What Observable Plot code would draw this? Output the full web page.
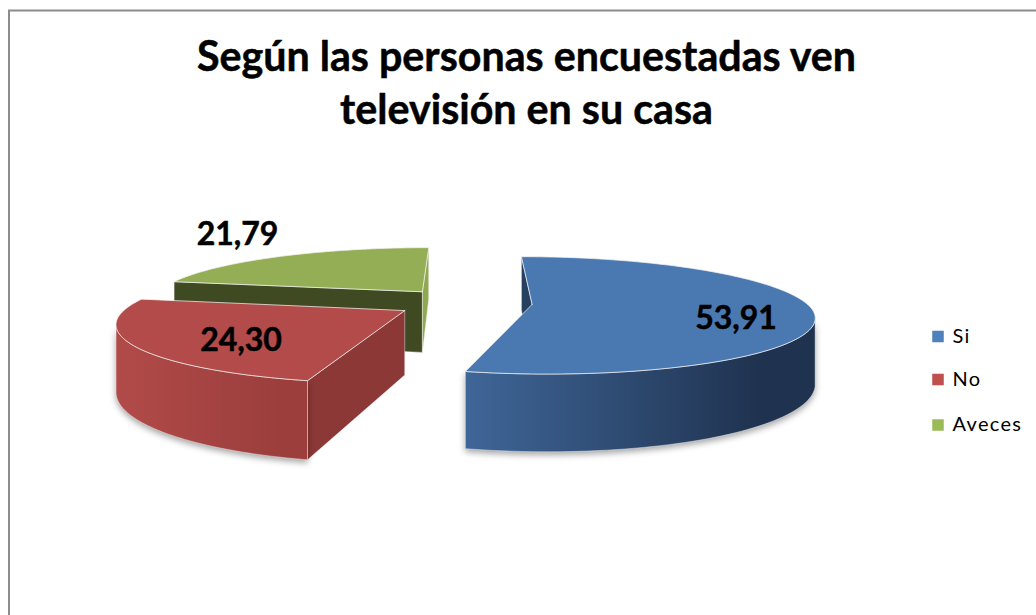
<!DOCTYPE html>
<html lang="es">
<head>
<meta charset="utf-8">
<script src="https://cdn.jsdelivr.net/npm/d3@7"></script>
<script src="https://cdn.jsdelivr.net/npm/@observablehq/plot@0.6"></script>
<style>html,body{margin:0;padding:0;background:#fff}svg{display:block}.leg text{letter-spacing:1.3px}</style>
</head>
<body>
<div id="chart"></div>
<script>
// Data
const categories = ["Si", "No", "Aveces"];
const values = [53.91, 24.30, 21.79];
const titleLines = ["Según las personas encuestadas ven", "televisión en su casa"];
const legendY = [336, 379, 424.5];
const labelPos = [[735.5, 318], [240.5, 340], [237, 234]];

// Styles per slice
const topColor = ["#4a79b1", "#b24b49", "#93ae54"];
const legendColor = ["#4f81bd", "#c0504d", "#9bbb59"];
const startFace = ["#26405f", "#8c3837", "#404a22"];
const endFace = ["#26405f", "#8c3837", "#8fa950"];
const rimStops = [["#3f6698", "#1f324f"], ["#b14b49", "#9b3e3c"], ["#6f8a3e", "#55692f"]];

// 3D exploded pie: ground plane -> picture through a simple perspective
const Rx = 281, Rz = 270, explode = 70, cx = 463.5, cz = 37, D = 1420, H = 310, T = 64.5;
const proj = (X, Z, bottom) => {
  const s = 1 / (1 + Z / D);
  return {x: cx + (X - cx) * s, y: (bottom ? H + T : H) * s};
};
const arcs = d3.pie().sort(null).value((d) => d)(values);

const faces = [];
arcs.forEach((a, i) => {
  const mid = (a.startAngle + a.endAngle) / 2;
  const ax = cx + explode * Math.sin(mid), az = cz + explode * Math.cos(mid);
  const n = 120;
  const rim = d3.range(n + 1).map((k) => {
    const t = a.startAngle + (a.endAngle - a.startAngle) * k / n;
    return {t, X: ax + Rx * Math.sin(t), Z: az + Rz * Math.cos(t)};
  });
  const first = rim[0], last = rim[n];
  const top = [proj(ax, az), ...rim.map((p) => proj(p.X, p.Z)), proj(ax, az)];
  const face = (p, color) => {
    const poly = [proj(ax, az), proj(p.X, p.Z), proj(p.X, p.Z, true), proj(ax, az, true)];
    return {poly: [...poly, poly[0]], color};
  };
  // Keep a cut face only when it turns towards the viewer
  const cutStart = face(first, startFace[i]);
  const cutEnd = face(last, endFace[i]);
  const eye = (p, nx, nz) => nx * (cx - p.X) + nz * (-D - p.Z);
  const apex = {X: ax, Z: az};
  const startVisible = eye(apex, -Math.cos(a.startAngle), Math.sin(a.startAngle)) > 0;
  const endVisible = eye(apex, Math.cos(a.endAngle), -Math.sin(a.endAngle)) > 0;
  if (startVisible) faces.push({...cutStart, slice: i});
  if (endVisible) faces.push({...cutEnd, slice: i});
  // Outer wall: the samples whose normal turns towards the viewer
  const facing = rim.filter((p) => eye(p, Math.sin(p.t), Math.cos(p.t)) > 0);
  if (facing.length > 1) {
    const wall = [...facing.map((p) => proj(p.X, p.Z)), ...facing.slice().reverse().map((p) => proj(p.X, p.Z, true))];
    faces.push({poly: [...wall, wall[0]], color: `url(#rim${i})`, slice: i, wall: true});
  }
  faces.push({poly: top, color: topColor[i], slice: i, top: true});
});

// Painter's order: green, red, blue
const order = [2, 1, 0];
const sliceMarks = order.flatMap((i) =>
  faces.filter((f) => f.slice === i).map((f) =>
    Plot.line(f.poly, {
      x: "x", y: "y", curve: "linear",
      fill: f.color,
      stroke: "#f2f2f2", strokeOpacity: f.top ? 0.75 : 0.45, strokeWidth: 1,
      imageFilter: f.wall ? "drop-shadow(0 3px 3px rgba(0,0,0,0.35))" : undefined
    })
  )
);

const defs = () => {
  const svg = d3.create("svg:defs");
  rimStops.forEach(([a, b], i) => {
    const g = svg.append("linearGradient").attr("id", `rim${i}`).attr("x1", 0).attr("x2", 1).attr("y1", 0).attr("y2", 0);
    g.append("stop").attr("offset", "0%").attr("stop-color", a);
    g.append("stop").attr("offset", "85%").attr("stop-color", b);
    g.append("stop").attr("offset", "100%").attr("stop-color", b);
  });
  return svg.node();
};

const fontFamily = "Lato, 'Open Sans', sans-serif";
const labels = values.map((v, i) => ({text: v.toFixed(2).replace(".", ","), x: labelPos[i][0], y: labelPos[i][1]}));
const legend = categories.map((c, i) => ({c, y: legendY[i], color: legendColor[i]}));
const title = titleLines.map((t, i) => ({t, y: [57, 110][i]}));

const chart = Plot.plot({
  width: 1036, height: 615,
  margin: 0,
  style: {background: "#fff", fontFamily},
  x: {type: "linear", domain: [0, 1036], range: [0, 1036], axis: null},
  y: {type: "linear", domain: [0, 615], range: [0, 615], axis: null},
  marks: [
    defs,
    Plot.ruleX([8.5], {y1: 10, y2: 615, stroke: "#8c8c8c", strokeWidth: 2}),
    Plot.ruleY([10], {x1: 8, x2: 1036, stroke: "#8c8c8c", strokeWidth: 2}),
    ...sliceMarks,
    Plot.text(title, {x: 526, y: "y", text: "t", fontSize: 41.2, fontWeight: 700, fill: "#000", stroke: "#000", strokeWidth: 0.5, fontFamily}),
    Plot.text(labels, {x: "x", y: "y", text: "text", fontSize: 32, fontWeight: 700, fill: "#000", stroke: "#000", strokeWidth: 0.5, fontFamily}),
    Plot.dot(legend, {x: 937.5, y: "y", symbol: "square", r: 6.5, fill: "color", stroke: "none"}),
    Plot.text(legend, {x: 952, y: "y", text: "c", textAnchor: "start", fontSize: 20, fill: "#000", fontFamily, className: "leg"})
  ]
});
document.getElementById("chart").appendChild(chart);
</script>
</body>
</html>
